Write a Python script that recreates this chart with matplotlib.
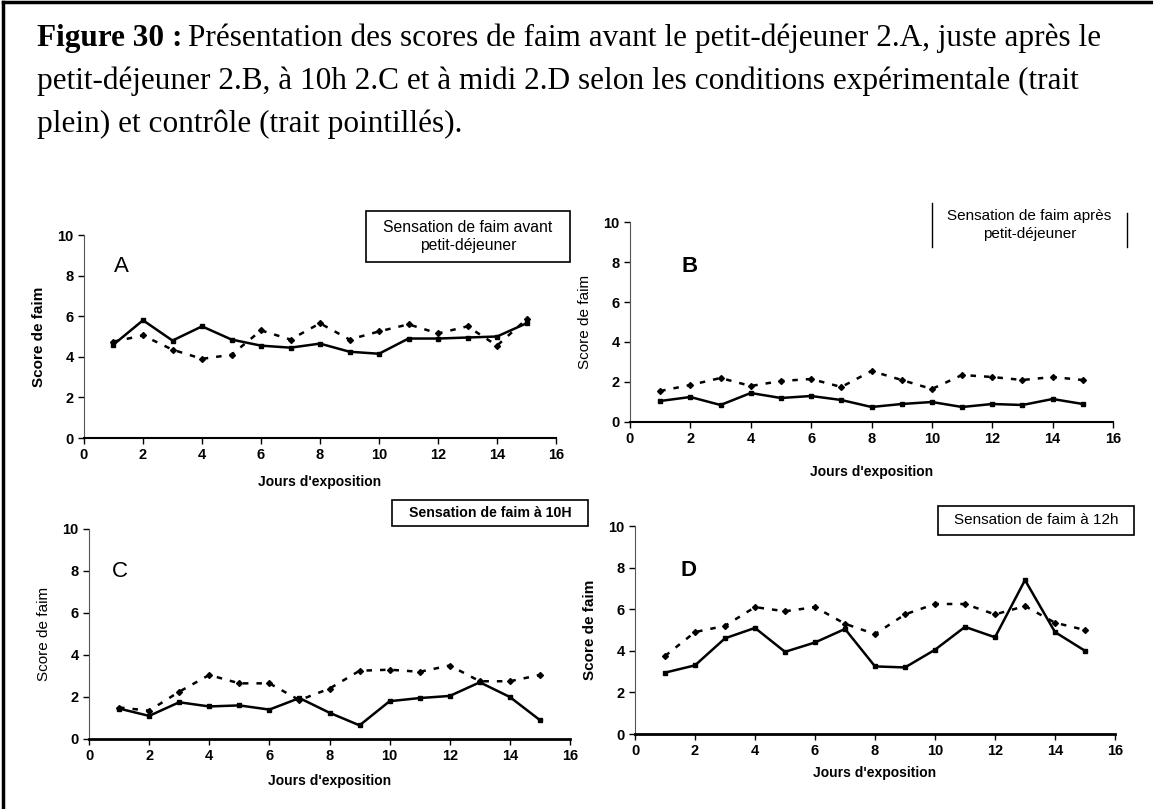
import matplotlib
matplotlib.use("Agg")
import matplotlib.pyplot as plt
from matplotlib.lines import Line2D
from matplotlib.patches import Rectangle

# jours d'exposition
jours = list(range(1, 16))

# A - avant petit-dejeuner
a_exp = [4.6, 5.8, 4.8, 5.5, 4.85, 4.55, 4.45, 4.65, 4.25, 4.15, 4.9, 4.9, 4.95, 5.0, 5.65]
a_ctrl = [4.75, 5.05, 4.35, 3.9, 4.1, 5.3, 4.85, 5.65, 4.85, 5.25, 5.6, 5.15, 5.5, 4.55, 5.85]
# B - apres petit-dejeuner
b_exp = [1.05, 1.25, 0.85, 1.45, 1.2, 1.3, 1.1, 0.75, 0.9, 1.0, 0.75, 0.9, 0.85, 1.15, 0.9]
b_ctrl = [1.55, 1.85, 2.2, 1.8, 2.05, 2.15, 1.75, 2.55, 2.1, 1.65, 2.35, 2.25, 2.1, 2.25, 2.1]
# C - a 10h
c_exp = [1.45, 1.1, 1.75, 1.55, 1.6, 1.4, 1.95, 1.25, 0.65, 1.8, 1.95, 2.05, 2.7, 2.0, 0.9]
c_ctrl = [1.5, 1.35, 2.25, 3.05, 2.65, 2.65, 1.85, 2.4, 3.25, 3.3, 3.2, 3.5, 2.75, 2.75, 3.05]
# D - a midi
d_exp = [2.95, 3.3, 4.6, 5.1, 3.95, 4.4, 5.05, 3.25, 3.2, 4.05, 5.15, 4.65, 7.4, 4.9, 4.0]
d_ctrl = [3.75, 4.9, 5.2, 6.1, 5.9, 6.1, 5.3, 4.8, 5.75, 6.25, 6.25, 5.75, 6.15, 5.35, 5.0]

lettres = ["A", "B", "C", "D"]
titres = ["Sensation de faim avant\npetit-déjeuner",
          "Sensation de faim après\npetit-déjeuner",
          "Sensation de faim à 10H",
          "Sensation de faim à 12h"]

W, H = 1153, 809
fig = plt.figure(figsize=(W / 100, H / 100), dpi=100)
fig.patch.set_facecolor("white")


def px(x0, y0, x1, y1):
    """pixels (haut-gauche) -> rect figure"""
    return [x0 / W, 1 - y1 / H, (x1 - x0) / W, (y1 - y0) / H]


def vline(x, y0, y1, lw=1.0):
    fig.add_artist(Line2D([x / W, x / W], [1 - y0 / H, 1 - y1 / H], color="black",
                          lw=lw, transform=fig.transFigure))


# cadre de la figure (gauche + haut)
vline(3, 2, H, lw=2.5)
fig.add_artist(Line2D([3 / W, 1], [1 - 2 / H, 1 - 2 / H], color="black", lw=2.5,
                      transform=fig.transFigure))

# légende
serif = "Liberation Serif"
fs_cap = 22.5
t0 = fig.text(37 / W, 1 - 46 / H, "Figure 30 :", fontfamily=serif, fontsize=fs_cap,
              fontweight="bold", va="baseline")
r = fig.canvas.get_renderer()
x_end = t0.get_window_extent(renderer=r).x1
fig.text(x_end / W + 6 / W, 1 - 46 / H,
         "Présentation des scores de faim avant le petit-déjeuner 2.A, juste après le",
         fontfamily=serif, fontsize=fs_cap, va="baseline")
fig.text(37 / W, 1 - 89 / H,
         "petit-déjeuner 2.B, à 10h 2.C et à midi 2.D selon les conditions expérimentale (trait",
         fontfamily=serif, fontsize=fs_cap, va="baseline")
fig.text(37 / W, 1 - 132 / H, "plein) et contrôle (trait pointillés).",
         fontfamily=serif, fontsize=fs_cap, va="baseline")

axes_px = [(84, 235, 556, 438), (630, 222, 1113, 422),
           (89, 529, 570, 739), (635, 526, 1115, 734)]
series = [(a_exp, a_ctrl), (b_exp, b_ctrl), (c_exp, c_ctrl), (d_exp, d_ctrl)]
xlab_y = [482, 472, 781, 773]
lettre_pos = [(1.0, 8.2), (1.7, 7.5), (0.75, 7.7), (1.5, 7.6)]
lettre_gras = [False, True, False, True]
ylab_gras = [True, False, False, True]

for i, (box, (exp, ctrl)) in enumerate(zip(axes_px, series)):
    ax = fig.add_axes(px(*box))
    ax.patch.set_alpha(0)
    ax.plot(jours, ctrl, linestyle=(0, (2.2, 3.2)), color="black", lw=1.8,
            marker="D", markersize=3)
    ax.plot(jours, exp, linestyle="-", color="black", lw=1.8,
            marker="s", markersize=3.5)
    ax.set_xlim(0, 16)
    ax.set_ylim(0, 10)
    ax.set_xticks(range(0, 17, 2))
    ax.set_yticks(range(0, 11, 2))
    for s in ["top", "right"]:
        ax.spines[s].set_visible(False)
    ax.spines["left"].set_linewidth(0.8)
    ax.spines["left"].set_color("#555555")
    ax.spines["bottom"].set_linewidth(2 if i >= 2 else 1.5)
    ax.tick_params(axis="both", labelsize=10.5, length=4, width=1, direction="out")
    for lab in ax.get_xticklabels() + ax.get_yticklabels():
        lab.set_fontweight("bold")
        lab.set_fontfamily("Liberation Sans")
    ax.set_ylabel("Score de faim", fontsize=11, fontfamily="Liberation Sans",
                  fontweight="bold" if ylab_gras[i] else "normal", labelpad=8)
    lx, ly = lettre_pos[i]
    ax.text(lx, ly, lettres[i], fontsize=16, fontfamily="Liberation Sans",
            fontweight="bold" if lettre_gras[i] else "normal")
    cx = (box[0] + box[2]) / 2
    fig.text(cx / W, 1 - xlab_y[i] / H, "Jours d'exposition", ha="center",
             va="center", fontsize=10, fontweight="bold",
             fontfamily="Liberation Sans")

# boîtes de titres
boites = [(366, 211, 570, 262), (932, 203, 1127, 247),
          (392, 500, 588, 526), (938, 506, 1134, 535)]
titre_fs = [11.3, 11, 10.2, 11]
for i, (x0, y0, x1, y1) in enumerate(boites):
    if i == 1:
        vline(x0, y0, y1)
        vline(x1, y0 + 10, y1)
    else:
        rr = px(x0, y0, x1, y1)
        fig.add_artist(Rectangle((rr[0], rr[1]), rr[2], rr[3], fill=False,
                                 edgecolor="black", lw=1.2,
                                 transform=fig.transFigure))
    fig.text((x0 + x1) / 2 / W, 1 - (y0 + y1) / 2 / H, titres[i], ha="center",
             va="center", fontsize=titre_fs[i], fontfamily="Liberation Sans",
             fontweight="bold" if i == 2 else "normal", linespacing=1.3)

fig.savefig("out.png", dpi=100)
